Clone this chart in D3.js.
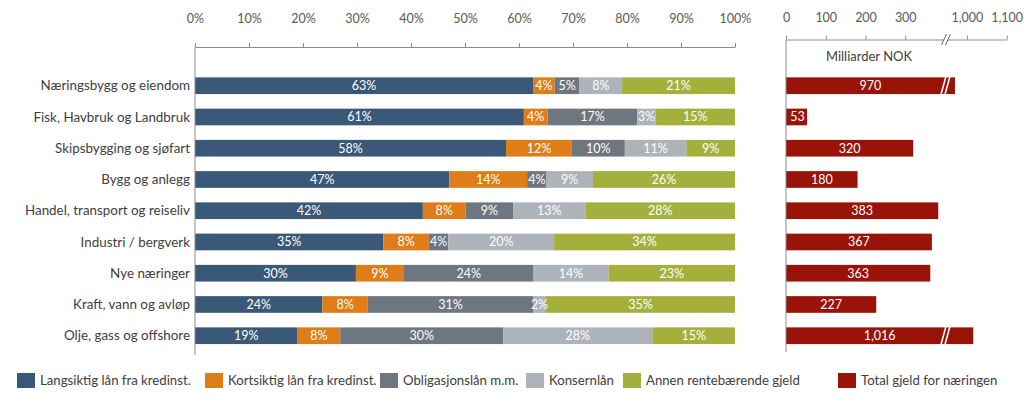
<!DOCTYPE html>
<html>
<head>
<meta charset="utf-8">
<script src="https://cdn.jsdelivr.net/npm/d3@7"></script>
<style>
  html, body { margin: 0; padding: 0; background: #fff; }
  svg { display: block; font-family: Lato, "Open Sans", sans-serif; }
</style>
</head>
<body>
<svg id="chart" width="1024" height="402"></svg>
<script>
const categories = [
  "Næringsbygg og eiendom",
  "Fisk, Havbruk og Landbruk",
  "Skipsbygging og sjøfart",
  "Bygg og anlegg",
  "Handel, transport og reiseliv",
  "Industri / bergverk",
  "Nye næringer",
  "Kraft, vann og avløp",
  "Olje, gass og offshore"
];
const langsiktig = [62.6, 60.9, 57.6, 47.1, 42.2, 34.9, 29.8, 23.6, 19.0];
const kortsiktig = [4.0, 4.4, 12.2, 14.4, 7.9, 8.4, 8.9, 8.4, 7.9];
const obligasjon = [4.6, 16.6, 9.8, 3.6, 8.8, 3.6, 24.0, 30.6, 30.2];
const konsern = [7.9, 3.4, 11.4, 8.6, 13.4, 19.6, 13.9, 2.4, 27.6];
const annen = [20.9, 14.7, 9.0, 26.3, 27.7, 33.5, 23.4, 35.0, 15.3];
const totalGjeld = [970, 53, 320, 180, 383, 367, 363, 227, 1016];

const seriesNames = ["Langsiktig lån fra kredinst.", "Kortsiktig lån fra kredinst.", "Obligasjonslån m.m.", "Konsernlån", "Annen rentebærende gjeld"];
const totalName = "Total gjeld for næringen";
const pctTicks = [0, 10, 20, 30, 40, 50, 60, 70, 80, 90, 100];
const totalTicks = [0, 100, 200, 300, 1000, 1100];
const unitLabel = "Milliarder NOK";

const colors = ["#3a5878", "#df7e18", "#6e767f", "#aeb3ba", "#a3b13c"];
const totalColor = "#9a1308";
const textColor = "#404040";
const tickColor = "#595959";
const axisColor = "#8c8c8c";

const svg = d3.select("#chart");

// table for stacking
const seriesArrays = [langsiktig, kortsiktig, obligasjon, konsern, annen];
const keys = seriesNames;
const table = categories.map((c, i) => {
  const row = { cat: c };
  keys.forEach((k, j) => row[k] = seriesArrays[j][i]);
  return row;
});
const stacked = d3.stack().keys(keys)(table);

const x = d3.scaleLinear().domain([0, 100]).range([195, 735]);
const y = d3.scaleBand().domain(categories).range([70.1, 351.35]).paddingInner(0.466).paddingOuter(0.233);

// Left stacked bars
const layer = svg.append("g").selectAll("g").data(stacked).join("g")
  .attr("fill", (d, i) => colors[i]);
layer.selectAll("rect").data(d => d).join("rect")
  .attr("x", d => x(d[0]))
  .attr("y", d => y(d.data.cat))
  .attr("width", d => x(d[1]) - x(d[0]))
  .attr("height", y.bandwidth());

const labelLayer = svg.append("g").attr("font-size", 12.5).attr("fill", "#fff").attr("text-anchor", "middle");
stacked.forEach(s => {
  labelLayer.selectAll(null).data(s).join("text")
    .attr("x", d => (x(d[0]) + x(d[1])) / 2)
    .attr("y", d => y(d.data.cat) + y.bandwidth() / 2)
    .attr("dy", "0.35em")
    .text(d => d3.format(".0f")(d[1] - d[0]) + "%");
});

// Left top axis
const xAxis = svg.append("g").attr("transform", "translate(0,47)")
  .call(d3.axisTop(x).tickValues(pctTicks).tickFormat(d => d + "%").tickSizeInner(4).tickSizeOuter(0).tickPadding(20));
xAxis.select(".domain").attr("stroke", axisColor);
xAxis.selectAll(".tick line").attr("stroke", axisColor);
xAxis.selectAll("text").attr("fill", tickColor).attr("font-size", 12.5).attr("font-family", "Lato, sans-serif");

// Left vertical axis line
svg.append("line").attr("x1", x(0)).attr("x2", x(0)).attr("y1", 47).attr("y2", 355)
  .attr("stroke", axisColor);

// Category labels
svg.append("g").selectAll("text").data(categories).join("text")
  .attr("x", 190)
  .attr("y", d => y(d) + y.bandwidth() / 2)
  .attr("dy", "0.35em")
  .attr("text-anchor", "end")
  .attr("font-size", 13.4)
  .attr("fill", textColor)
  .text(d => d);

// Right chart with broken scale
const xr = d3.scaleLinear().domain([0, 400, 950, 1100]).range([786, 945, 947, 1006.7]);
const breakX = 946;

svg.append("g").selectAll("rect").data(totalGjeld).join("rect")
  .attr("x", xr(0))
  .attr("y", (d, i) => y(categories[i]))
  .attr("width", d => xr(d) - xr(0))
  .attr("height", y.bandwidth())
  .attr("fill", totalColor);

svg.append("g").attr("font-size", 12.5).attr("fill", "#fff").attr("text-anchor", "middle")
  .selectAll("text").data(totalGjeld).join("text")
  .attr("x", d => (xr(0) + xr(d)) / 2 + (d < 100 ? 1 : 0))
  .attr("y", (d, i) => y(categories[i]) + y.bandwidth() / 2)
  .attr("dy", "0.35em")
  .text(d => d3.format(",")(d));

// break marks on bars exceeding the break
totalGjeld.forEach((d, i) => {
  if (d > 400) {
    const top = y(categories[i]) - 3;
    const bot = y(categories[i]) + y.bandwidth() + 6;
    [-2, 2].forEach(off => {
      svg.append("line")
        .attr("x1", breakX + off - 4.5).attr("y1", bot)
        .attr("x2", breakX + off + 2.5).attr("y2", top)
        .attr("stroke", "#fff").attr("stroke-width", 1.6);
    });
  }
});

const xrAxis = svg.append("g").attr("transform", "translate(0,39.5)")
  .call(d3.axisTop(xr).tickValues(totalTicks).tickFormat(d3.format(",")).tickSizeInner(4).tickSizeOuter(0).tickPadding(14));
xrAxis.select(".domain").attr("stroke", axisColor);
xrAxis.selectAll(".tick line").attr("stroke", axisColor);
xrAxis.selectAll("text").attr("fill", tickColor).attr("font-size", 12.5).attr("font-family", "Lato, sans-serif");

// axis break
svg.append("rect").attr("x", breakX - 2).attr("y", 36).attr("width", 4).attr("height", 7).attr("fill", "#fff");
[-2, 2].forEach(off => {
  svg.append("line")
    .attr("x1", breakX + off - 2.5).attr("y1", 45)
    .attr("x2", breakX + off + 2.5).attr("y2", 34)
    .attr("stroke", "#666").attr("stroke-width", 1);
});

svg.append("line").attr("x1", xr(0)).attr("x2", xr(0)).attr("y1", 39.5).attr("y2", 352)
  .attr("stroke", axisColor);

svg.append("text").attr("x", 869).attr("y", 56).attr("dy", "0.35em")
  .attr("text-anchor", "middle").attr("font-size", 13).attr("fill", textColor)
  .text(unitLabel);

// Legend
const legendItems = seriesNames.map((n, i) => ({ name: n, color: colors[i], x: [17, 205, 380, 526, 623][i] }))
  .concat([{ name: totalName, color: totalColor, x: 838 }]);
const leg = svg.append("g").selectAll("g").data(legendItems).join("g")
  .attr("transform", d => `translate(${d.x},373)`);
leg.append("rect").attr("width", 18).attr("height", 15).attr("fill", d => d.color);
leg.append("text").attr("x", 23).attr("y", 7.5).attr("dy", "0.35em")
  .attr("font-size", 13.2).attr("fill", textColor).text(d => d.name);
</script>
</body>
</html>
